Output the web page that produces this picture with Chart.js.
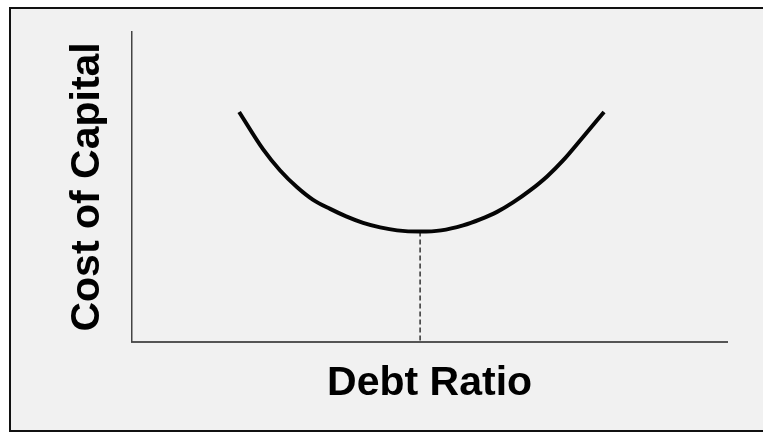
<!DOCTYPE html>
<html>
<head>
<meta charset="utf-8">
<script src="https://cdn.jsdelivr.net/npm/chart.js@4"></script>
<style>
  html, body { margin: 0; padding: 0; background: #ffffff; overflow: hidden; width: 763px; height: 432px; }
  #frame { position: absolute; left: 9px; top: 7px; width: 800px; height: 425px; box-sizing: border-box;
           border-left: 2px solid #111; border-top: 2px solid #111; border-bottom: 2px solid #111;
           border-right: 0; background: #f1f1f1; }
  #wrap { position: absolute; left: 0; top: 0; width: 763px; height: 432px; }
</style>
</head>
<body>
<div id="frame"></div>
<div id="wrap"><canvas id="c" width="763" height="432"></canvas></div>
<script>
// Data
const debtRatio     = [17.98, 22.02, 24.87, 27.73, 30.42, 33.28, 35.97, 38.82, 41.68, 44.54, 48.40,
                       51.93, 55.63, 58.49, 61.34, 64.03, 66.89, 69.75, 72.44, 75.80, 79.33];
const costOfCapital = [74.19, 62.10, 55.29, 49.87, 45.81, 42.90, 40.48, 38.39, 36.94, 35.97, 35.58,
                       35.97, 37.58, 39.52, 41.94, 45.00, 48.87, 53.39, 58.55, 66.13, 74.19];
const xTitle = 'Debt Ratio';
const yTitle = 'Cost of Capital';

const curve = debtRatio.map((x, i) => ({ x: x, y: costOfCapital[i] }));
const minIdx = costOfCapital.indexOf(Math.min(...costOfCapital));
const optimum = [
  { x: debtRatio[minIdx], y: costOfCapital[minIdx] },
  { x: debtRatio[minIdx], y: 0 }
];

new Chart(document.getElementById('c'), {
  type: 'line',
  data: {
    datasets: [
      { data: curve, borderColor: '#050505', borderWidth: 4, pointRadius: 0,
        cubicInterpolationMode: 'monotone', fill: false, borderCapStyle: 'butt' },
      { data: optimum, borderColor: '#000', borderWidth: 1.2, borderDash: [5, 3],
        pointRadius: 0, fill: false }
    ]
  },
  options: {
    responsive: false,
    animation: false,
    layout: { padding: { top: 32, right: 36, bottom: 24, left: 50 } },
    plugins: { legend: { display: false }, tooltip: { enabled: false } },
    scales: {
      x: {
        type: 'linear', min: 0, max: 100,
        grid: { display: false, drawTicks: false },
        ticks: { display: false },
        border: { display: true, color: '#555', width: 2 },
        title: { display: true, text: xTitle, color: '#000',
                 font: { family: '"Liberation Sans", Arial, sans-serif', size: 41, weight: 'bold' },
                 padding: { top: 17, bottom: 0 } }
      },
      y: {
        type: 'linear', min: 0, max: 100,
        grid: { display: false, drawTicks: false },
        ticks: { display: false },
        border: { display: true, color: '#444', width: 1.5 },
        title: { display: true, text: yTitle, color: '#000',
                 font: { family: '"Liberation Sans", Arial, sans-serif', size: 41, weight: 'bold' },
                 padding: { top: 13, bottom: 20 } }
      }
    }
  }
});
</script>
</body>
</html>
